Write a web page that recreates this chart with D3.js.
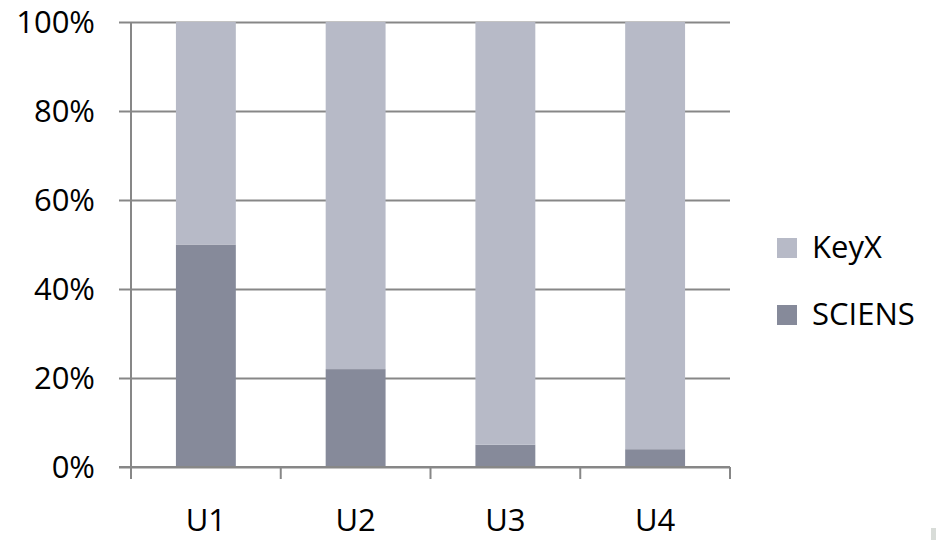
<!DOCTYPE html>
<html>
<head>
<meta charset="utf-8">
<script src="https://cdn.jsdelivr.net/npm/d3@7"></script>
<style>
  html, body { margin: 0; padding: 0; background: #fff; }
  svg { display: block; font-family: "Open Sans", "Liberation Sans", sans-serif; }
</style>
</head>
<body>
<svg id="chart" width="936" height="540"></svg>
<script>
// Units on the x axis
const categories = ["U1", "U2", "U3", "U4"];
// Share of SCIENS per unit (percent); KeyX makes up the rest
const sciensValues = [50, 22, 5, 4];
const keyxValues = [50, 78, 95, 96];
const seriesNames = ["SCIENS", "KeyX"];
const yTicks = [0, 20, 40, 60, 80, 100];

const colors = { SCIENS: "#868a9a", KeyX: "#b7bac7" };
const axisColor = "#878787";
const fontSize = 31;

const svg = d3.select("#chart");
const margin = { left: 131, right: 206, top: 22, bottom: 73 };
const W = 936, H = 540;

const x = d3.scaleBand()
  .domain(categories)
  .range([margin.left, W - margin.right])
  .paddingInner(0.6)
  .paddingOuter(0.3);

const y = d3.scaleLinear()
  .domain([0, 100])
  .range([H - margin.bottom, margin.top]);

// Horizontal gridlines with outward ticks
const yAxis = d3.axisLeft(y)
  .tickValues(yTicks)
  .tickSize(-(W - margin.right - margin.left))
  .tickFormat(d => d + "%");
const gy = svg.append("g")
  .attr("transform", `translate(${margin.left},0)`)
  .call(yAxis);
gy.select(".domain").remove();
gy.selectAll(".tick line")
  .attr("x1", -12)
  .attr("stroke", axisColor)
  .attr("stroke-width", 2);
gy.selectAll(".tick text")
  .attr("x", -36)
  .attr("dy", "0.34em")
  .attr("fill", "#000")
  .attr("font-size", fontSize)
  .attr("font-family", "'Open Sans', sans-serif");

// Vertical axis line
svg.append("line")
  .attr("x1", margin.left).attr("x2", margin.left)
  .attr("y1", y(100)).attr("y2", y(0) + 12)
  .attr("stroke", axisColor).attr("stroke-width", 2);

// Stacked bars
const rows = categories.map((c, i) => ({ cat: c, SCIENS: sciensValues[i], KeyX: keyxValues[i] }));
const stacked = d3.stack().keys(seriesNames)(rows);
svg.append("g").selectAll("g")
  .data(stacked)
  .join("g")
  .attr("fill", d => colors[d.key])
  .selectAll("rect")
  .data(d => d)
  .join("rect")
  .attr("x", d => x(d.data.cat))
  .attr("width", x.bandwidth())
  .attr("y", d => y(d[1]))
  .attr("height", d => y(d[0]) - y(d[1]));

// Category separators on the x axis
const step = (W - margin.right - margin.left) / categories.length;
const sepG = svg.append("g");
d3.range(categories.length + 1).forEach(i => {
  const xx = margin.left + i * step;
  sepG.append("line")
    .attr("x1", xx).attr("x2", xx)
    .attr("y1", y(0)).attr("y2", y(0) + 12)
    .attr("stroke", axisColor).attr("stroke-width", 2);
});
svg.append("line")
  .attr("x1", margin.left - 12).attr("x2", W - margin.right)
  .attr("y1", y(0)).attr("y2", y(0))
  .attr("stroke", axisColor).attr("stroke-width", 2);

// Category labels
svg.append("g").selectAll("text")
  .data(categories)
  .join("text")
  .attr("x", d => x(d) + x.bandwidth() / 2)
  .attr("y", 531)
  .attr("text-anchor", "middle")
  .attr("font-size", fontSize)
  .attr("fill", "#000")
  .text(d => d);

// Legend
const legendItems = ["KeyX", "SCIENS"];
const lg = svg.append("g").selectAll("g")
  .data(legendItems)
  .join("g")
  .attr("transform", (d, i) => `translate(777,${238 + i * 67})`);
lg.append("rect")
  .attr("width", 20).attr("height", 20)
  .attr("fill", d => colors[d]);
lg.append("text")
  .attr("x", 35).attr("y", 20)
  .attr("font-size", fontSize)
  .attr("fill", "#000")
  .text(d => d);

// Small scroll marker at the bottom-right corner
svg.append("rect")
  .attr("x", 931).attr("y", 528)
  .attr("width", 5).attr("height", 12)
  .attr("fill", "#d8dcd8");
</script>
</body>
</html>
